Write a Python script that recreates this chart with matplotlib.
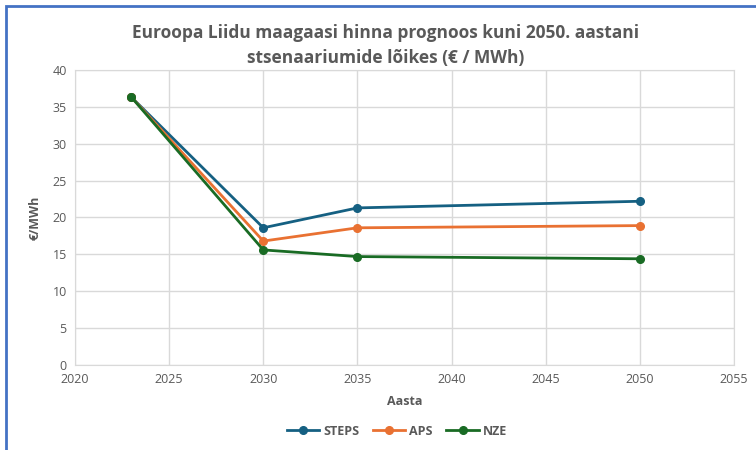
import matplotlib.pyplot as plt
from matplotlib.patches import Rectangle

# --- Data ---
years = [2023, 2030, 2035, 2050]
steps = [36.3, 18.6, 21.3, 22.2]
aps = [36.3, 16.8, 18.6, 18.9]
nze = [36.3, 15.6, 14.7, 14.4]

series_names = ['STEPS', 'APS', 'NZE']
series_colors = ['#156082', '#E97132', '#196B24']

TEXT = '#595959'
GRID = '#d9d9d9'

plt.rcParams['font.family'] = ['Open Sans', 'DejaVu Sans']

fig = plt.figure(figsize=(7.56, 4.5), dpi=100)
ax = fig.add_axes([0.0992, 0.189, 0.8718, 0.6554])

for name, vals, col in zip(series_names, [steps, aps, nze], series_colors):
    ax.plot(years, vals, color=col, linewidth=2, marker='o', markersize=5.5, label=name, zorder=3)

ax.set_xlim(2020, 2055)
ax.set_ylim(0, 40)
ax.set_xticks(range(2020, 2056, 5))
ax.set_yticks(range(0, 41, 5))
ax.grid(True, color=GRID, linewidth=1)
for s in ax.spines.values():
    s.set_color(GRID)
ax.tick_params(length=0, colors=TEXT, labelsize=9, pad=6)

ax.set_xlabel('Aasta', color=TEXT, fontsize=9, fontweight='bold', labelpad=6)
ax.set_ylabel('€/MWh', color=TEXT, fontsize=9, fontweight='bold', labelpad=8)

fig.text(0.51, 0.9, 'Euroopa Liidu maagaasi hinna prognoos kuni 2050. aastani\nstsenaariumide lõikes (€ / MWh)',
         ha='center', va='center', fontsize=12.5, fontweight='bold', color=TEXT, linespacing=1.5)

leg = fig.legend(loc='center', bbox_to_anchor=(0.525, 0.042), ncol=3, frameon=False,
                 fontsize=9, handlelength=2.6, columnspacing=1.1, handletextpad=0.3)
for t in leg.get_texts():
    t.set_color(TEXT)
    t.set_fontweight('bold')

# blue frame of the chart object (only left and top edges are visible)
fig.patches.append(Rectangle((6 / 756, -0.05), 1.2, 1 - 6 / 450 + 0.05, transform=fig.transFigure,
                             fill=False, edgecolor='#4472C4', linewidth=2))

fig.savefig('out.png', dpi=100)
